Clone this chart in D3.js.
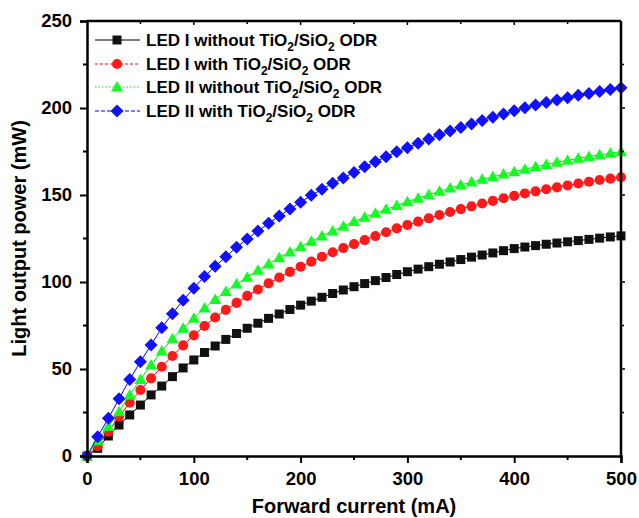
<!DOCTYPE html>
<html>
<head>
<meta charset="utf-8">
<script src="https://cdn.jsdelivr.net/npm/d3@7"></script>
<style>
  body { margin: 0; background: #fff; }
  svg { font-family: "Liberation Sans", Arial, sans-serif; }
  .tick text { font-weight: bold; font-size: 18.5px; }
  .title { font-weight: bold; font-size: 20px; }
  .legend text { font-weight: bold; font-size: 17px; }
</style>
</head>
<body>
<svg></svg>
<script>
// forward current (mA)
var current = [0, 10, 20, 30, 40, 50, 60, 70, 80, 90, 100, 110, 120, 130, 140, 150, 160, 170, 180, 190,
    200, 210, 220, 230, 240, 250, 260, 270, 280, 290, 300, 310, 320, 330, 340, 350, 360, 370, 380, 390,
    400, 410, 420, 430, 440, 450, 460, 470, 480, 490, 500];

// light output power (mW)
var led1Without = [0, 4.4, 11.5, 17.8, 23.6, 29.3, 35.1, 40.2, 45.6, 50.6, 55.2, 59.5, 63.2, 67.0, 70.4, 73.4, 76.3, 79.1, 81.6, 84.2,
    86.7, 89.0, 91.2, 93.4, 95.4, 97.3, 99.1, 100.8, 102.6, 104.3, 105.9, 107.4, 108.8, 110.2, 111.5, 112.9, 114.3, 115.5, 116.7, 118.0,
    119.2, 120.1, 120.9, 121.7, 122.4, 123.1, 123.8, 124.5, 125.2, 125.9, 126.5];
var led1With = [0, 5.6, 14.0, 22.6, 30.6, 37.9, 44.6, 51.3, 57.5, 63.6, 69.3, 74.7, 79.6, 84.0, 88.0, 92.0, 95.7, 99.2, 102.6, 105.8,
    108.8, 111.7, 114.5, 117.1, 119.5, 121.8, 124.1, 126.4, 128.6, 130.8, 132.8, 134.7, 136.6, 138.5, 140.2, 141.9, 143.5, 145.1, 146.6, 148.1,
    149.5, 150.9, 152.1, 153.3, 154.4, 155.5, 156.6, 157.6, 158.6, 159.4, 160.2];
var led2Without = [0, 8.8, 16.9, 25.5, 35.0, 44.0, 52.3, 60.3, 67.4, 73.4, 79.1, 85.0, 90.0, 94.5, 98.8, 102.7, 106.7, 110.4, 114.0, 117.3,
    120.3, 123.4, 126.4, 129.3, 132.1, 134.7, 137.2, 139.5, 141.8, 143.9, 146.1, 148.2, 150.2, 152.1, 154.0, 155.7, 157.4, 159.0, 160.5, 162.0,
    163.4, 164.8, 166.2, 167.5, 168.8, 170.0, 171.1, 172.1, 173.1, 174.0, 174.9];
var led2With = [0, 11.1, 21.7, 32.9, 44.0, 54.2, 63.8, 73.7, 81.8, 89.5, 96.4, 103.2, 109.0, 114.5, 120.0, 124.7, 129.3, 133.7, 137.9, 142.0,
    145.8, 149.8, 153.3, 156.7, 159.8, 163.0, 166.2, 169.1, 172.0, 174.8, 177.2, 179.7, 182.2, 184.6, 186.8, 188.8, 190.8, 192.8, 194.7, 196.6,
    198.4, 200.1, 201.7, 203.2, 204.6, 205.9, 207.3, 208.4, 209.5, 210.6, 211.6];

var xTicks = [0, 100, 200, 300, 400, 500];
var yTicks = [0, 50, 100, 150, 200, 250];

window.onload = function () {

    var width = 639, height = 518;
    var margin = {left: 87, top: 21, right: 18, bottom: 62};

    var svg = d3.select("svg")
        .attr("width", width)
        .attr("height", height);

    var xScale = d3.scaleLinear().domain([0, 500]).range([margin.left, width - margin.right]);
    var yScale = d3.scaleLinear().domain([0, 250]).range([height - margin.bottom, margin.top]);

    // series config
    var series = [
        {name: "LED I without ", values: led1Without, fill: "#111111", line: "#000000", dash: null, shape: "square"},
        {name: "LED I with ", values: led1With, fill: "#ff1a1a", line: "#ff0000", dash: "3,2", shape: "circle"},
        {name: "LED II without ", values: led2Without, fill: "#11ff22", line: "#00ee00", dash: "1.5,2", shape: "triangle"},
        {name: "LED II with ", values: led2With, fill: "#1111ff", line: "#0000ff", dash: "4,2", shape: "diamond"}
    ];

    var shapePath = function (shape) {
        if (shape == "square") return "M-4.5,-4.5H4.5V4.5H-4.5Z";
        if (shape == "circle") return d3.symbol(d3.symbolCircle, 80)();
        if (shape == "triangle") return "M0,-6L6,4.5H-6Z";
        return "M0,-6.5L6.5,0L0,6.5L-6.5,0Z";
    };

    var line = d3.line()
        .x(function (d, i) { return xScale(current[i]); })
        .y(function (d) { return yScale(d); });

    // lines + markers
    series.forEach(function (s) {
        svg.append("path")
            .datum(s.values)
            .attr("d", line)
            .attr("fill", "none")
            .attr("stroke", s.line)
            .attr("stroke-width", 1);

        svg.append("g").selectAll("path")
            .data(s.values)
            .enter()
            .append("path")
            .attr("d", shapePath(s.shape))
            .attr("transform", function (d, i) {
                return "translate(" + xScale(current[i]) + "," + yScale(d) + ")";
            })
            .attr("fill", s.fill);
    });

    // axes
    var xAxis = d3.axisBottom(xScale).tickValues(xTicks).tickSize(7).tickPadding(9);
    var yAxis = d3.axisLeft(yScale).tickValues(yTicks).tickSize(7).tickPadding(8);

    var gx = svg.append("g")
        .attr("transform", "translate(0," + yScale(0) + ")")
        .call(xAxis);
    var gy = svg.append("g")
        .attr("transform", "translate(" + xScale(0) + ",0)")
        .call(yAxis);

    // minor ticks
    gx.selectAll(".minor").data([50, 150, 250, 350, 450]).enter()
        .append("line")
        .attr("x1", function (d) { return xScale(d); })
        .attr("x2", function (d) { return xScale(d); })
        .attr("y1", 0).attr("y2", 4)
        .attr("stroke", "#000").attr("stroke-width", 2);
    gy.selectAll(".minor").data([25, 75, 125, 175, 225]).enter()
        .append("line")
        .attr("y1", function (d) { return yScale(d); })
        .attr("y2", function (d) { return yScale(d); })
        .attr("x1", 0).attr("x2", -4)
        .attr("stroke", "#000").attr("stroke-width", 2);

    [gx, gy].forEach(function (g) {
        g.select(".domain").attr("stroke-width", 2.5);
        g.selectAll(".tick line").attr("stroke-width", 2);
        g.selectAll(".tick text").attr("fill", "#000");
    });

    // top and right frame with small ticks
    svg.append("line")
        .attr("x1", xScale(0)).attr("x2", xScale(500))
        .attr("y1", yScale(250)).attr("y2", yScale(250))
        .attr("stroke", "#000").attr("stroke-width", 2.5);
    svg.append("line")
        .attr("x1", xScale(500)).attr("x2", xScale(500))
        .attr("y1", yScale(250)).attr("y2", yScale(0))
        .attr("stroke", "#000").attr("stroke-width", 2.5);

    svg.append("g").selectAll("line")
        .data([50, 100, 150, 200, 250, 300, 350, 400, 450])
        .enter().append("line")
        .attr("x1", function (d) { return xScale(d); })
        .attr("x2", function (d) { return xScale(d); })
        .attr("y1", yScale(250)).attr("y2", function (d) { return yScale(250) + (d % 100 == 0 ? 4 : 3); })
        .attr("stroke", "#000").attr("stroke-width", 1.5);
    svg.append("g").selectAll("line")
        .data([25, 50, 75, 100, 125, 150, 175, 200, 225])
        .enter().append("line")
        .attr("y1", function (d) { return yScale(d); })
        .attr("y2", function (d) { return yScale(d); })
        .attr("x1", xScale(500)).attr("x2", function (d) { return xScale(500) + (d % 50 == 0 ? 4 : 3); })
        .attr("stroke", "#000").attr("stroke-width", 1.5);

    // axis titles
    svg.append("text")
        .attr("class", "title")
        .attr("x", (xScale(0) + xScale(500)) / 2)
        .attr("y", 513)
        .attr("text-anchor", "middle")
        .text("Forward current (mA)");

    svg.append("text")
        .attr("class", "title")
        .attr("transform", "translate(26," + ((yScale(0) + yScale(250)) / 2) + ") rotate(-90)")
        .attr("text-anchor", "middle")
        .text("Light output power (mW)");

    // legend
    var legend = svg.append("g").attr("class", "legend");
    var legendY = [40, 64, 87, 111];

    series.forEach(function (s, i) {
        var y = legendY[i];
        legend.append("line")
            .attr("x1", 95).attr("x2", 140)
            .attr("y1", y).attr("y2", y)
            .attr("stroke", s.line)
            .attr("stroke-width", 1)
            .attr("stroke-dasharray", s.dash);
        legend.append("path")
            .attr("d", shapePath(s.shape))
            .attr("transform", "translate(117," + y + ")")
            .attr("fill", s.fill);

        var t = legend.append("text")
            .attr("x", 146)
            .attr("y", y + 6);
        t.append("tspan").text(s.name + "TiO");
        t.append("tspan").attr("dy", 5).attr("font-size", "12px").text("2");
        t.append("tspan").attr("dy", -5).text("/SiO");
        t.append("tspan").attr("dy", 5).attr("font-size", "12px").text("2");
        t.append("tspan").attr("dy", -5).text(" ODR");
    });
};
</script>
</body>
</html>
